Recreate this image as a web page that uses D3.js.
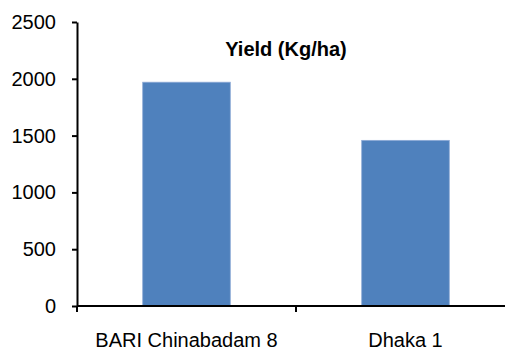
<!DOCTYPE html>
<html>
<head>
<meta charset="utf-8">
<script src="https://cdn.jsdelivr.net/npm/d3@7"></script>
<style>
  html, body { margin: 0; padding: 0; background: #fff; }
  svg { display: block; font-family: "Liberation Sans", Arial, sans-serif; }
</style>
</head>
<body>
<svg id="chart" width="505" height="349"></svg>
<script>
// Groundnut varieties and their yield
const categories = ["BARI Chinabadam 8", "Dhaka 1"];
const yieldValues = [1970, 1458];
const yTicks = [0, 500, 1000, 1500, 2000, 2500];
const chartTitle = "Yield (Kg/ha)";

const svg = d3.select("#chart");
const margin = { left: 77, right: -10, top: 22, bottom: 43 };
const W = 505, H = 349;

const x = d3.scaleBand()
  .domain(categories)
  .range([margin.left, W - margin.right])
  .padding(0);

const y = d3.scaleLinear()
  .domain([0, 2500])
  .range([H - margin.bottom, margin.top]);

// bars
const barFrac = 0.4;
svg.append("g")
  .selectAll("rect")
  .data(categories)
  .join("rect")
  .attr("x", d => x(d) + x.bandwidth() * (1 - barFrac) / 2)
  .attr("width", x.bandwidth() * barFrac)
  .attr("y", (d, i) => y(yieldValues[i]))
  .attr("height", (d, i) => y(0) - y(yieldValues[i]))
  .attr("fill", "#4F81BD")
  .attr("stroke", "#8EAAD6")
  .attr("stroke-width", 0.8);

// y axis
const yAxis = svg.append("g")
  .attr("transform", `translate(${margin.left},0)`)
  .call(d3.axisLeft(y).tickValues(yTicks).tickFormat(d3.format("d"))
    .tickSize(5).tickSizeOuter(0).tickPadding(16));
yAxis.select(".domain").attr("stroke", "#000").attr("stroke-width", 2);
yAxis.selectAll(".tick line").attr("stroke", "#000").attr("stroke-width", 2);
yAxis.selectAll(".tick text")
  .attr("fill", "#000")
  .style("font-size", "20px")
  .style("font-family", "Liberation Sans, Arial, sans-serif");

// x axis with tick marks at category boundaries
const xAxis = svg.append("g")
  .attr("transform", `translate(0,${y(0)})`);
xAxis.append("line")
  .attr("x1", margin.left).attr("x2", W)
  .attr("stroke", "#000").attr("stroke-width", 2);
const boundaries = categories.map(c => x(c)).concat([x(categories[categories.length - 1]) + x.bandwidth()]);
xAxis.selectAll("line.tk")
  .data(boundaries)
  .join("line")
  .attr("class", "tk")
  .attr("x1", d => d).attr("x2", d => d)
  .attr("y1", 0).attr("y2", 6)
  .attr("stroke", "#000").attr("stroke-width", 2);
xAxis.selectAll("text")
  .data(categories)
  .join("text")
  .attr("x", d => x(d) + x.bandwidth() / 2)
  .attr("y", 41)
  .attr("text-anchor", "middle")
  .attr("fill", "#000")
  .style("font-size", "20px")
  .text(d => d);

// title
svg.append("text")
  .attr("x", 286)
  .attr("y", 56)
  .attr("text-anchor", "middle")
  .style("font-size", "20px")
  .style("font-weight", "bold")
  .text(chartTitle);
</script>
</body>
</html>
